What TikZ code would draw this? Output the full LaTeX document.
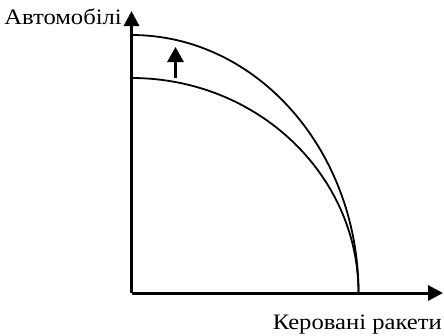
\documentclass[tikz,border=0pt]{standalone}
\usepackage{fontspec}
\setmainfont{Liberation Serif}[FakeStretch=1.12]
\usetikzlibrary{arrows.meta}
\begin{document}
\begin{tikzpicture}[x=1pt,y=-1pt,
  axis/.style={line width=3pt,-{Triangle[length=15pt,width=15pt]}},
  curve/.style={line width=1.8pt},
  shiftarrow/.style={line width=3pt,-{Triangle[length=15pt,width=16pt]}},
  lbl/.style={inner sep=0pt,font=\fontsize{22}{25}\selectfont}]
\useasboundingbox (0,0) rectangle (444,335);
\coordinate (O) at (131.5,293);
\coordinate (ytip) at (131.5,11);
\coordinate (xtip) at (443,293);
\coordinate (s0) at (175.5,78);
\coordinate (s1) at (175.5,47);
\draw[axis] (O) -- (ytip);
\draw[axis] (O) -- (xtip);
\draw[curve] (131.5,35) arc[start angle=90,end angle=0,x radius=227,y radius=-258];
\draw[curve] (131.5,78) arc[start angle=90,end angle=0,x radius=227,y radius=-215];
\draw[shiftarrow] (s0) -- (s1);
\node[lbl,anchor=base east] (ylab) at (122,24) {Автомобілі};
\node[lbl,anchor=base east] (xlab) at (442,329) {Керовані ракети};
\end{tikzpicture}
\end{document}
